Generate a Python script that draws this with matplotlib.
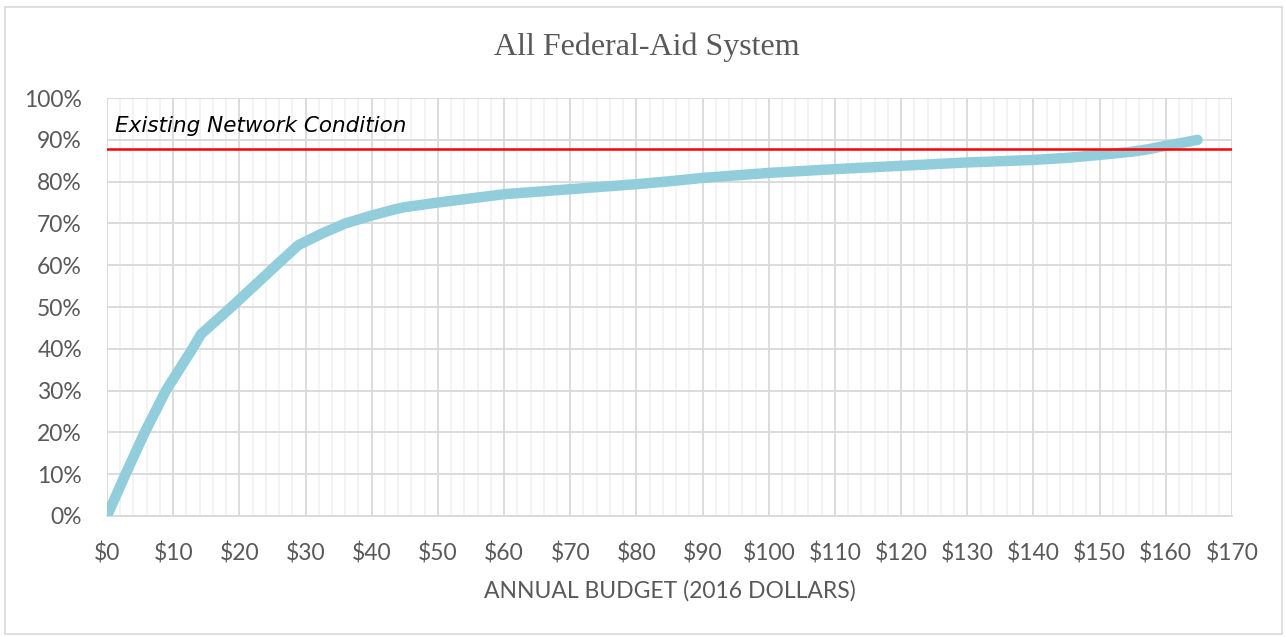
import matplotlib
matplotlib.use("Agg")
import matplotlib.pyplot as plt
from matplotlib.patches import Rectangle
from matplotlib.ticker import MultipleLocator, FuncFormatter

# Annual budget (billions, 2016 dollars) vs. share of network in good condition
budget = [0, 2.8, 5.7, 8.9, 12.9, 14.2, 18.8, 25.6, 28.9, 32.5, 36.0, 40.0, 43.3,
          45, 50, 55, 60, 65, 70, 75, 80, 85, 90, 95, 100, 110, 120, 130, 140,
          145, 150, 155, 157.5, 160, 162.5, 164.8]
condition = [0, 10, 20, 30, 40, 43.5, 50, 60, 64.8, 67.6, 70.0, 71.9, 73.3,
             73.9, 75.0, 76.0, 77.0, 77.6, 78.2, 78.8, 79.4, 80.1, 80.9, 81.5, 82.1,
             83.0, 83.8, 84.6, 85.2, 85.7, 86.4, 87.2, 87.8, 88.6, 89.3, 90.0]

existing_condition = 87.7
existing_label = "Existing Network Condition"
title = "All Federal-Aid System"
x_label = "ANNUAL BUDGET (2016 DOLLARS)"

fig = plt.figure(figsize=(12.86, 6.37), dpi=100)
fig.patches.append(Rectangle((0.004, 0.005), 0.993, 0.984, transform=fig.transFigure,
                             fill=False, edgecolor="#D9D9D9", linewidth=1.2))

ax = fig.add_axes([0.0832, 0.19, 0.8748, 0.656])
ax.set_xlim(0, 170)
ax.set_ylim(0, 100)

ax.xaxis.set_major_locator(MultipleLocator(10))
ax.xaxis.set_minor_locator(MultipleLocator(2))
ax.yaxis.set_major_locator(MultipleLocator(10))
ax.xaxis.set_major_formatter(FuncFormatter(lambda v, p: f"${v:.0f}"))
ax.yaxis.set_major_formatter(FuncFormatter(lambda v, p: f"{v:.0f}%"))

ax.grid(which="minor", axis="x", color="#F0F0F0", linewidth=1.1, zorder=0)
ax.grid(which="major", axis="x", color="#D9D9D9", linewidth=1.3, zorder=0)
ax.grid(which="major", axis="y", color="#D9D9D9", linewidth=1.3, zorder=0)
ax.set_axisbelow(True)

for side in ("top", "right", "left"):
    ax.spines[side].set_visible(False)
ax.spines["bottom"].set_color("#D9D9D9")
ax.spines["bottom"].set_linewidth(1.3)

ax.tick_params(which="both", length=0)
ax.tick_params(axis="x", pad=19, labelsize=16.5, labelcolor="#595959")
ax.tick_params(axis="y", pad=18, labelsize=16.5, labelcolor="#595959")
for lbl in ax.get_xticklabels() + ax.get_yticklabels():
    lbl.set_fontfamily("Lato")

ax.plot(budget, condition, color="#92CDDC", linewidth=7.5, solid_capstyle="round",
        solid_joinstyle="round", zorder=3)
ax.axhline(existing_condition, color="#FF0000", linewidth=1.8, zorder=4)
ax.text(1.2, 93.3, existing_label, fontsize=15.5, style="italic", family="DejaVu Sans",
        color="#000000", va="center", ha="left", zorder=5)

fig.text(0.503, 0.926, title, fontsize=23, family="Liberation Serif",
         color="#595959", ha="center", va="center")
fig.text(0.521, 0.072, x_label, fontsize=16.5, family="Lato",
         color="#595959", ha="center", va="center")

fig.savefig("out.png", dpi=100)
